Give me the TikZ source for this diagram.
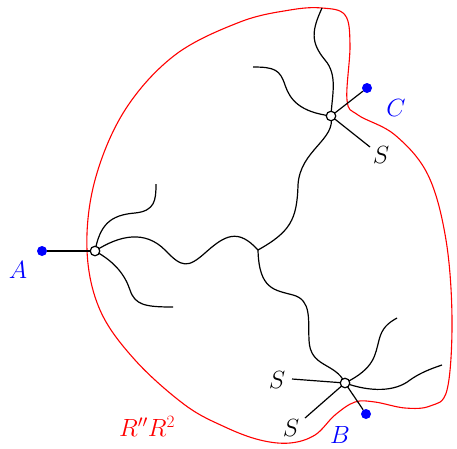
\documentclass[tikz,border=0pt]{standalone}
\begin{document}
\begin{tikzpicture}[x=1pt,y=-1pt,
  wire/.style={line width=1.2pt,black},
  boundary/.style={line width=1.1pt,red},
  junc/.style={circle,draw=black,fill=white,line width=1.2pt,inner sep=0pt,minimum size=9.5pt},
  bdot/.style={circle,fill=blue,inner sep=0pt,minimum size=10pt},
  lab/.style={font=\fontsize{24}{28}\selectfont,inner sep=0pt}]
\useasboundingbox (0,0) rectangle (457,448);
% boundary
\draw[boundary] plot[smooth cycle,tension=0.6] coordinates {
 (322,8) (345,15) (350,45) (347,100) (358,115) (395,135) (428,175) (446,240)
 (452,320) (447,390) (430,406) (405,408) (375,402) (355,402) (335,415) (315,435)
 (290,443) (260,440) (225,427) (185,405) (135,360) (100,310) (87,250) (95,180)
 (125,110) (175,55) (240,22) (290,10)};
% named points
\coordinate (jA) at (95,251);
\coordinate (jC) at (331,116);
\coordinate (jB) at (345,383);
\coordinate (mid) at (258,250);
\node[bdot] (dA) at (42,251) {};
\node[bdot] (dC) at (367,88) {};
\node[bdot] (dB) at (366,414) {};
\coordinate (sC) at (370,147);
\coordinate (sB1) at (292,379);
\coordinate (sB2) at (305,418);
\coordinate (eA1) at (156,184);
\coordinate (eA3) at (173,307);
\coordinate (eC1) at (322,8);
\coordinate (eC2) at (253,67);
\coordinate (eB1) at (397,318);
\coordinate (eB2) at (442,365);
% wires
\draw[wire] (dA) -- (jA);
\draw[wire] (jA) .. controls (100,225) and (110,215) .. (135,213) .. controls (155,211) and (156,200) .. (eA1);
\draw[wire] (jA) .. controls (120,235) and (145,230) .. (165,250) .. controls (182,268) and (188,268) .. (205,253) .. controls (225,235) and (238,228) .. (mid);
\draw[wire] (jA) .. controls (115,262) and (125,275) .. (130,290) .. controls (135,305) and (145,307) .. (eA3);
\draw[wire] (jC) .. controls (336,140) and (300,150) .. (298,185) .. controls (297,220) and (290,232) .. (mid);
\draw[wire] (mid) .. controls (259,290) and (275,290) .. (293,295) .. controls (312,300) and (308,320) .. (309,340) .. controls (310,368) and (335,362) .. (jB);
\draw[wire] (jC) .. controls (332,95) and (338,75) .. (325,60) .. controls (310,42) and (312,30) .. (eC1);
\draw[wire] (jC) .. controls (300,112) and (290,100) .. (285,85) .. controls (280,70) and (275,67) .. (eC2);
\draw[wire] (jC) -- (dC);
\draw[wire] (jC) -- (sC);
\draw[wire] (jB) .. controls (375,368) and (375,355) .. (379,340) .. controls (382,328) and (388,323) .. (eB1);
\draw[wire] (jB) .. controls (370,392) and (395,392) .. (410,380) .. controls (420,373) and (430,369) .. (eB2);
\draw[wire] (jB) -- (sB1);
\draw[wire] (jB) -- (sB2);
\draw[wire] (jB) -- (dB);
% junction circles
\node[junc] (nA) at (jA) {};
\node[junc] (nC) at (jC) {};
\node[junc] (nB) at (jB) {};
% labels
\node[lab,text=blue] (lA) at (18,270) {$A$};
\node[lab,text=blue] (lC) at (396,108) {$C$};
\node[lab,text=blue] (lB) at (340,435) {$B$};
\node[lab] (lS1) at (381,155) {$S$};
\node[lab] (lS2) at (277,380) {$S$};
\node[lab] (lS3) at (291,428) {$S$};
\node[lab,text=red] (lR) at (147,426) {$R''R^2$};
\end{tikzpicture}
\end{document}
